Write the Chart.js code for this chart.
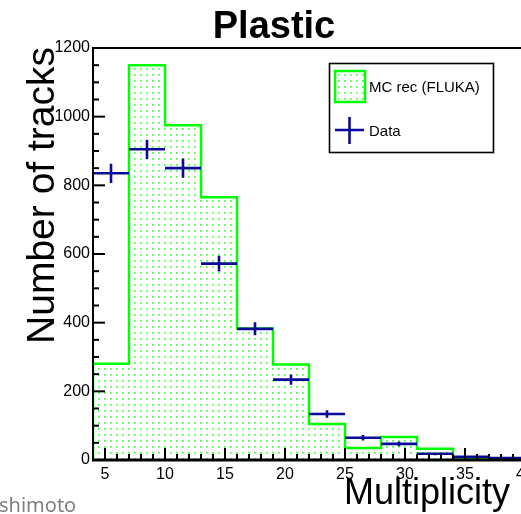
<!DOCTYPE html>
<html><head><meta charset="utf-8">
<script src="https://cdn.jsdelivr.net/npm/chart.js@4/dist/chart.umd.min.js"></script>
<style>
html,body{margin:0;padding:0;background:#fff;overflow:hidden;width:521px;height:514px;}
#wrap{position:absolute;left:0;top:0;width:560px;height:514px;}
#note{position:absolute;left:-1px;top:494px;font-family:"Noto Sans";font-size:20px;line-height:21px;color:#808080;white-space:nowrap;}
</style></head><body>
<div id="wrap"><canvas id="c" width="560" height="514"></canvas></div>
<div id="note">shimoto</div>
<script>
// ---- data ----
const binEdges    = [4, 7, 10, 13, 16, 19, 22, 25, 28, 31, 34, 37, 40];
const mcCounts    = [280, 1150, 975, 765, 383, 278, 105, 35, 67, 33, 2, 0];
const dataCounts  = [835, 905, 850, 572, 382, 234, 134, 65, 47, 18, 9, 6];
const dataErrors  = [28, 28, 28, 23, 19, 15, 11, 8, 7, 4, 3, 2];
const xTickLabels = [5, 10, 15, 20, 25, 30, 35, 40];
const yTickLabels = [0, 200, 400, 600, 800, 1000, 1200];
const titleText   = 'Plastic';
const xTitle      = 'Multiplicity';
const yTitle      = 'Number of tracks';
const legendMC    = 'MC rec (FLUKA)';
const legendData  = 'Data';

const GREEN = '#00ff00';
const BLUE  = '#0a0a96';
const FONT  = '"Liberation Sans", Arial, sans-serif';

// dotted fill pattern
function makePattern(){
  const p = document.createElement('canvas');
  p.width = 6; p.height = 6;
  const g = p.getContext('2d');
  g.fillStyle = 'rgba(0,240,0,0.7)';
  g.fillRect(2, 2, 1.7, 1.7);
  return document.getElementById('c').getContext('2d').createPattern(p, 'repeat');
}
const dotPattern = makePattern();

// histogram outline points built from bin edges and counts
const mcPoints = [{x: binEdges[0], y: 0}];
mcCounts.forEach((v, i) => {
  mcPoints.push({x: binEdges[i], y: v});
  mcPoints.push({x: binEdges[i + 1], y: v});
});
mcPoints.push({x: binEdges[binEdges.length - 1], y: 0});

const dataPoints = dataCounts.map((v, i) => ({x: (binEdges[i] + binEdges[i + 1]) / 2, y: v}));

const overlay = {
  id: 'overlay',
  afterDatasetsDraw(chart){
    const {ctx, chartArea: a, scales: {x, y}} = chart;
    ctx.save();
    // error bars
    ctx.strokeStyle = BLUE; ctx.lineWidth = 2.6; ctx.lineCap = 'butt';
    dataCounts.forEach((v, i) => {
      const x0 = x.getPixelForValue(binEdges[i]);
      const x1 = x.getPixelForValue(binEdges[i + 1]);
      const cx = x.getPixelForValue((binEdges[i] + binEdges[i + 1]) / 2);
      const yc = y.getPixelForValue(v);
      const ylo = y.getPixelForValue(v - dataErrors[i]);
      const yhi = y.getPixelForValue(v + dataErrors[i]);
      ctx.beginPath();
      ctx.moveTo(x0, yc); ctx.lineTo(x1, yc);
      ctx.moveTo(cx, ylo); ctx.lineTo(cx, yhi);
      ctx.stroke();
    });
    // frame
    ctx.strokeStyle = '#000';
    ctx.lineWidth = 2;
    ctx.beginPath();
    ctx.moveTo(a.left, a.bottom); ctx.lineTo(a.left, a.top); ctx.lineTo(a.right, a.top);
    ctx.stroke();
    ctx.lineWidth = 3;
    ctx.beginPath(); ctx.moveTo(a.left - 1, a.bottom); ctx.lineTo(a.right, a.bottom); ctx.stroke();
    // inner ticks
    ctx.lineWidth = 2;
    const xmin = x.min, xmax = x.max;
    for (let v = Math.ceil(xmin); v <= xmax; v++){
      const px = x.getPixelForValue(v);
      if (px <= a.left + 2) continue;
      const len = (v % 5 === 0) ? 12 : 6;
      ctx.beginPath(); ctx.moveTo(px, a.bottom); ctx.lineTo(px, a.bottom - len); ctx.stroke();
    }
    for (let v = 0; v <= y.max; v += 50){
      const py = y.getPixelForValue(v);
      const len = (v % 200 === 0) ? 12 : 6;
      ctx.beginPath(); ctx.moveTo(a.left, py); ctx.lineTo(a.left + len, py); ctx.stroke();
    }
    ctx.restore();
  },
  afterDraw(chart){
    const {ctx} = chart;
    ctx.save();
    ctx.fillStyle = '#000';
    // title
    ctx.font = 'bold 38px ' + FONT;
    ctx.textAlign = 'center'; ctx.textBaseline = 'alphabetic';
    ctx.fillText(titleText, 274, 38);
    // x title
    ctx.font = '36px ' + FONT;
    ctx.textAlign = 'right';
    ctx.fillText(xTitle, 510, 504);
    // y title
    ctx.save();
    ctx.translate(54, 47);
    ctx.rotate(-Math.PI / 2);
    ctx.font = '39px ' + FONT;
    ctx.textAlign = 'right';
    ctx.fillText(yTitle, 0, 0);
    ctx.restore();
    // legend
    ctx.fillStyle = '#fff';
    ctx.fillRect(329, 63, 164, 89);
    ctx.strokeStyle = '#000'; ctx.lineWidth = 1.6;
    ctx.strokeRect(329.5, 63.5, 164, 89);
    ctx.fillStyle = dotPattern;
    ctx.fillRect(335, 71, 30, 31);
    ctx.strokeStyle = GREEN; ctx.lineWidth = 2.5;
    ctx.strokeRect(335, 71, 30, 31);
    ctx.strokeStyle = BLUE; ctx.lineWidth = 2.6;
    ctx.beginPath();
    ctx.moveTo(335, 130); ctx.lineTo(364, 130);
    ctx.moveTo(349.5, 117); ctx.lineTo(349.5, 144);
    ctx.stroke();
    ctx.fillStyle = '#000';
    ctx.font = '15px ' + FONT;
    ctx.textAlign = 'left';
    ctx.fillText(legendMC, 369, 92);
    ctx.fillText(legendData, 369, 136);
    ctx.restore();
  }
};

new Chart(document.getElementById('c'), {
  type: 'scatter',
  data: {
    datasets: [
      {
        label: legendMC,
        data: mcPoints,
        showLine: true,
        borderColor: GREEN,
        borderWidth: 2.5,
        backgroundColor: dotPattern,
        fill: 'origin',
        pointRadius: 0,
        tension: 0
      },
      {
        label: legendData,
        data: dataPoints,
        showLine: false,
        pointRadius: 0,
        borderColor: BLUE,
        backgroundColor: BLUE
      }
    ]
  },
  options: {
    responsive: false,
    animation: false,
    devicePixelRatio: 1,
    layout: {padding: {left: 0, top: 48, right: 11, bottom: 0}},
    plugins: {legend: {display: false}, tooltip: {enabled: false}, title: {display: false}},
    scales: {
      x: {
        type: 'linear', min: 4, max: 42,
        grid: {display: false, drawTicks: false},
        border: {display: false},
        afterBuildTicks(s){ s.ticks = xTickLabels.map(v => ({value: v})); },
        afterFit(s){ s.height = 54; },
        ticks: {color: '#000', font: {family: FONT, size: 16}, padding: 5, autoSkip: false, maxRotation: 0,
                callback: v => String(v)}
      },
      y: {
        type: 'linear', min: 0, max: 1200,
        grid: {display: false, drawTicks: false},
        border: {display: false},
        afterBuildTicks(s){ s.ticks = yTickLabels.map(v => ({value: v})); },
        afterFit(s){ s.width = 93; },
        ticks: {color: '#000', font: {family: FONT, size: 16}, padding: 3, autoSkip: false,
                callback: v => String(v)}
      }
    }
  },
  plugins: [overlay]
});
</script>
</body></html>
